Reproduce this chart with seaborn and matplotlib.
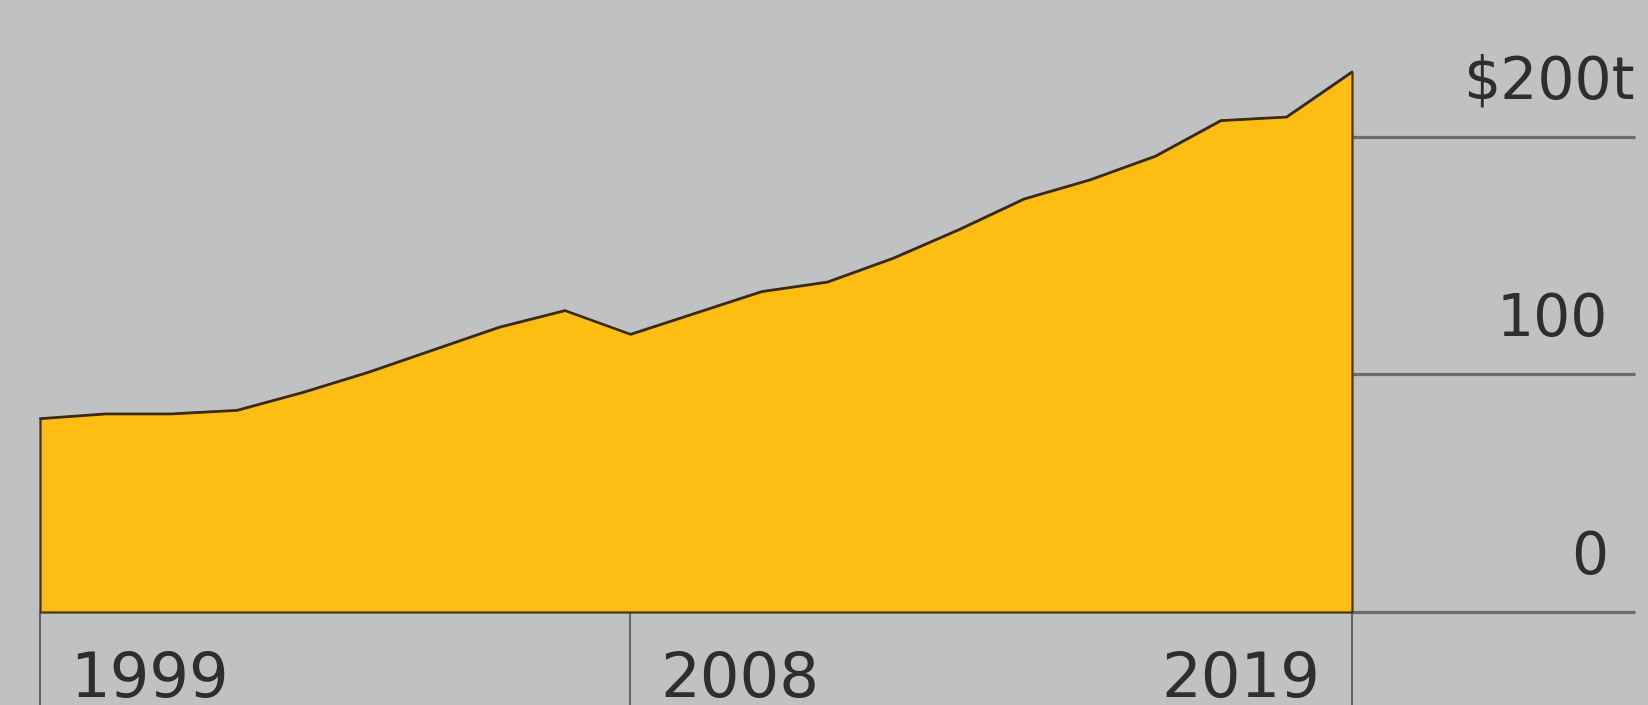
import matplotlib
matplotlib.use("Agg")
import matplotlib.pyplot as plt
import seaborn as sns
import pandas as pd

# ---- data ----
years = list(range(1999, 2020))
values = [81.5, 83.5, 83.5, 85, 92.5, 101, 110.5, 120, 127, 117, 126,
          135, 139, 149, 161, 174, 182, 192, 207, 208.5, 227.5]
y_ticks = [0, 100, 200]
y_tick_labels = ["0", "100", "\\$200t"]
x_ticks = [1999, 2008, 2019]
x_tick_labels = ["1999", "2008", "2019"]

# ---- style ----
BG = "#c0c1c3"
FILL = "#fdbd12"
EDGE = "#4a3510"
GRID = "#6b6b6b"
TXT = "#2e2e2e"

sns.set_theme(style="white", rc={"figure.facecolor": BG, "axes.facecolor": BG})
plt.rcParams["font.family"] = ["DejaVu Sans"]

W, H, DPI = 1648, 705, 100
fig = plt.figure(figsize=(W / DPI, H / DPI), dpi=DPI)
ax = fig.add_axes([0, 0, 1, 1])

# pixel layout -> data mapping
px_x0, px_per_year = 40, 65.6      # 1999 at x=40px
px_y0, px_per_unit = 612, 2.375    # value 0 at y=612px (from top)


def xd(px):
    return years[0] + (px - px_x0) / px_per_year


def yd(py):
    return (px_y0 - py) / px_per_unit


ax.set_xlim(xd(0), xd(W))
ax.set_ylim(yd(H), yd(0))
ax.set_axis_off()

df = pd.DataFrame({"year": years, "value": values})
ax.fill_between(df["year"], 0, df["value"], facecolor=FILL, edgecolor=EDGE,
                linewidth=1.6, zorder=2)
sns.lineplot(data=df, x="year", y="value", ax=ax, color="#3a2a10",
             linewidth=1.6, zorder=3)

# gridlines on the right
x_right = xd(1635)
ax.hlines(y_ticks, years[-1], x_right, color=GRID, linewidth=2.3, zorder=1)

# vertical ticks below baseline
ax.vlines(x_ticks, yd(H), 0, color="#666666", linewidth=1.5, zorder=1)

# y labels (above their gridlines)
for v, lab in zip(y_ticks, y_tick_labels):
    xr = xd(1635) if "t" in lab else xd(1608)
    ax.text(xr, v + 38 / px_per_unit, lab, ha="right", va="baseline",
            fontsize=42, color=TXT, zorder=5)

# x labels
for i, (t, lab) in enumerate(zip(x_ticks, x_tick_labels)):
    if i < len(x_ticks) - 1:
        ax.text(t + 30 / px_per_year, yd(697), lab, ha="left", va="baseline",
                fontsize=45, color=TXT, zorder=5)
    else:
        ax.text(t - 32 / px_per_year, yd(697), lab, ha="right", va="baseline",
                fontsize=45, color=TXT, zorder=5)

fig.savefig("out.png", dpi=DPI, facecolor=BG)
